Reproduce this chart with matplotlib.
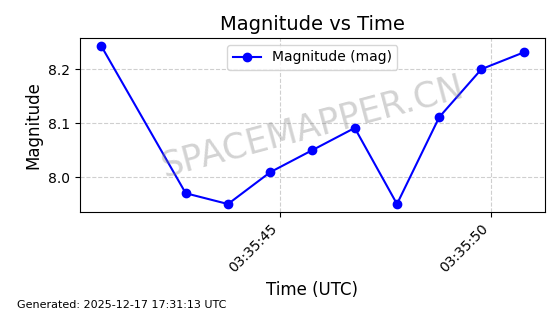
import matplotlib
matplotlib.use("Agg")
import matplotlib.pyplot as plt
import matplotlib.dates as mdates
from datetime import datetime, timedelta

# observation times (UTC) and magnitudes
base = datetime(2025, 12, 17, 3, 35, 40, 770000)
offsets = [0, 2, 3, 4, 5, 6, 7, 8, 9, 10]
times = [base + timedelta(seconds=s) for s in offsets]
mags = [8.243, 7.970, 7.950, 8.009, 8.050, 8.091, 7.950, 8.111, 8.200, 8.231]

fig = plt.figure(figsize=(5.6, 3.14), dpi=100)
ax = fig.add_subplot(1, 1, 1)
ax.plot(times, mags, "o-", color="blue", label="Magnitude (mag)")
ax.set_title("Magnitude vs Time", fontsize=14)
ax.set_xlabel("Time (UTC)", fontsize=12)
ax.set_ylabel("Magnitude", fontsize=12)
ax.xaxis.set_major_locator(mdates.SecondLocator(bysecond=[45, 50]))
ax.xaxis.set_major_formatter(mdates.DateFormatter("%H:%M:%S"))
plt.setp(ax.get_xticklabels(), rotation=45, ha="right")
ax.grid(True, linestyle="--", alpha=0.6)
ax.legend(loc="upper center")

# watermark
ax.text(0.5, 0.49, "SPACEMAPPER.CN", transform=ax.transAxes, fontsize=25,
        color="gray", alpha=0.35, rotation=15, ha="center", va="center")

fig.text(0.03, 0.02, "Generated: 2025-12-17 17:31:13 UTC", fontsize=8)
fig.subplots_adjust(left=0.143, right=0.973, top=0.879, bottom=0.325)
plt.savefig("out.png")
